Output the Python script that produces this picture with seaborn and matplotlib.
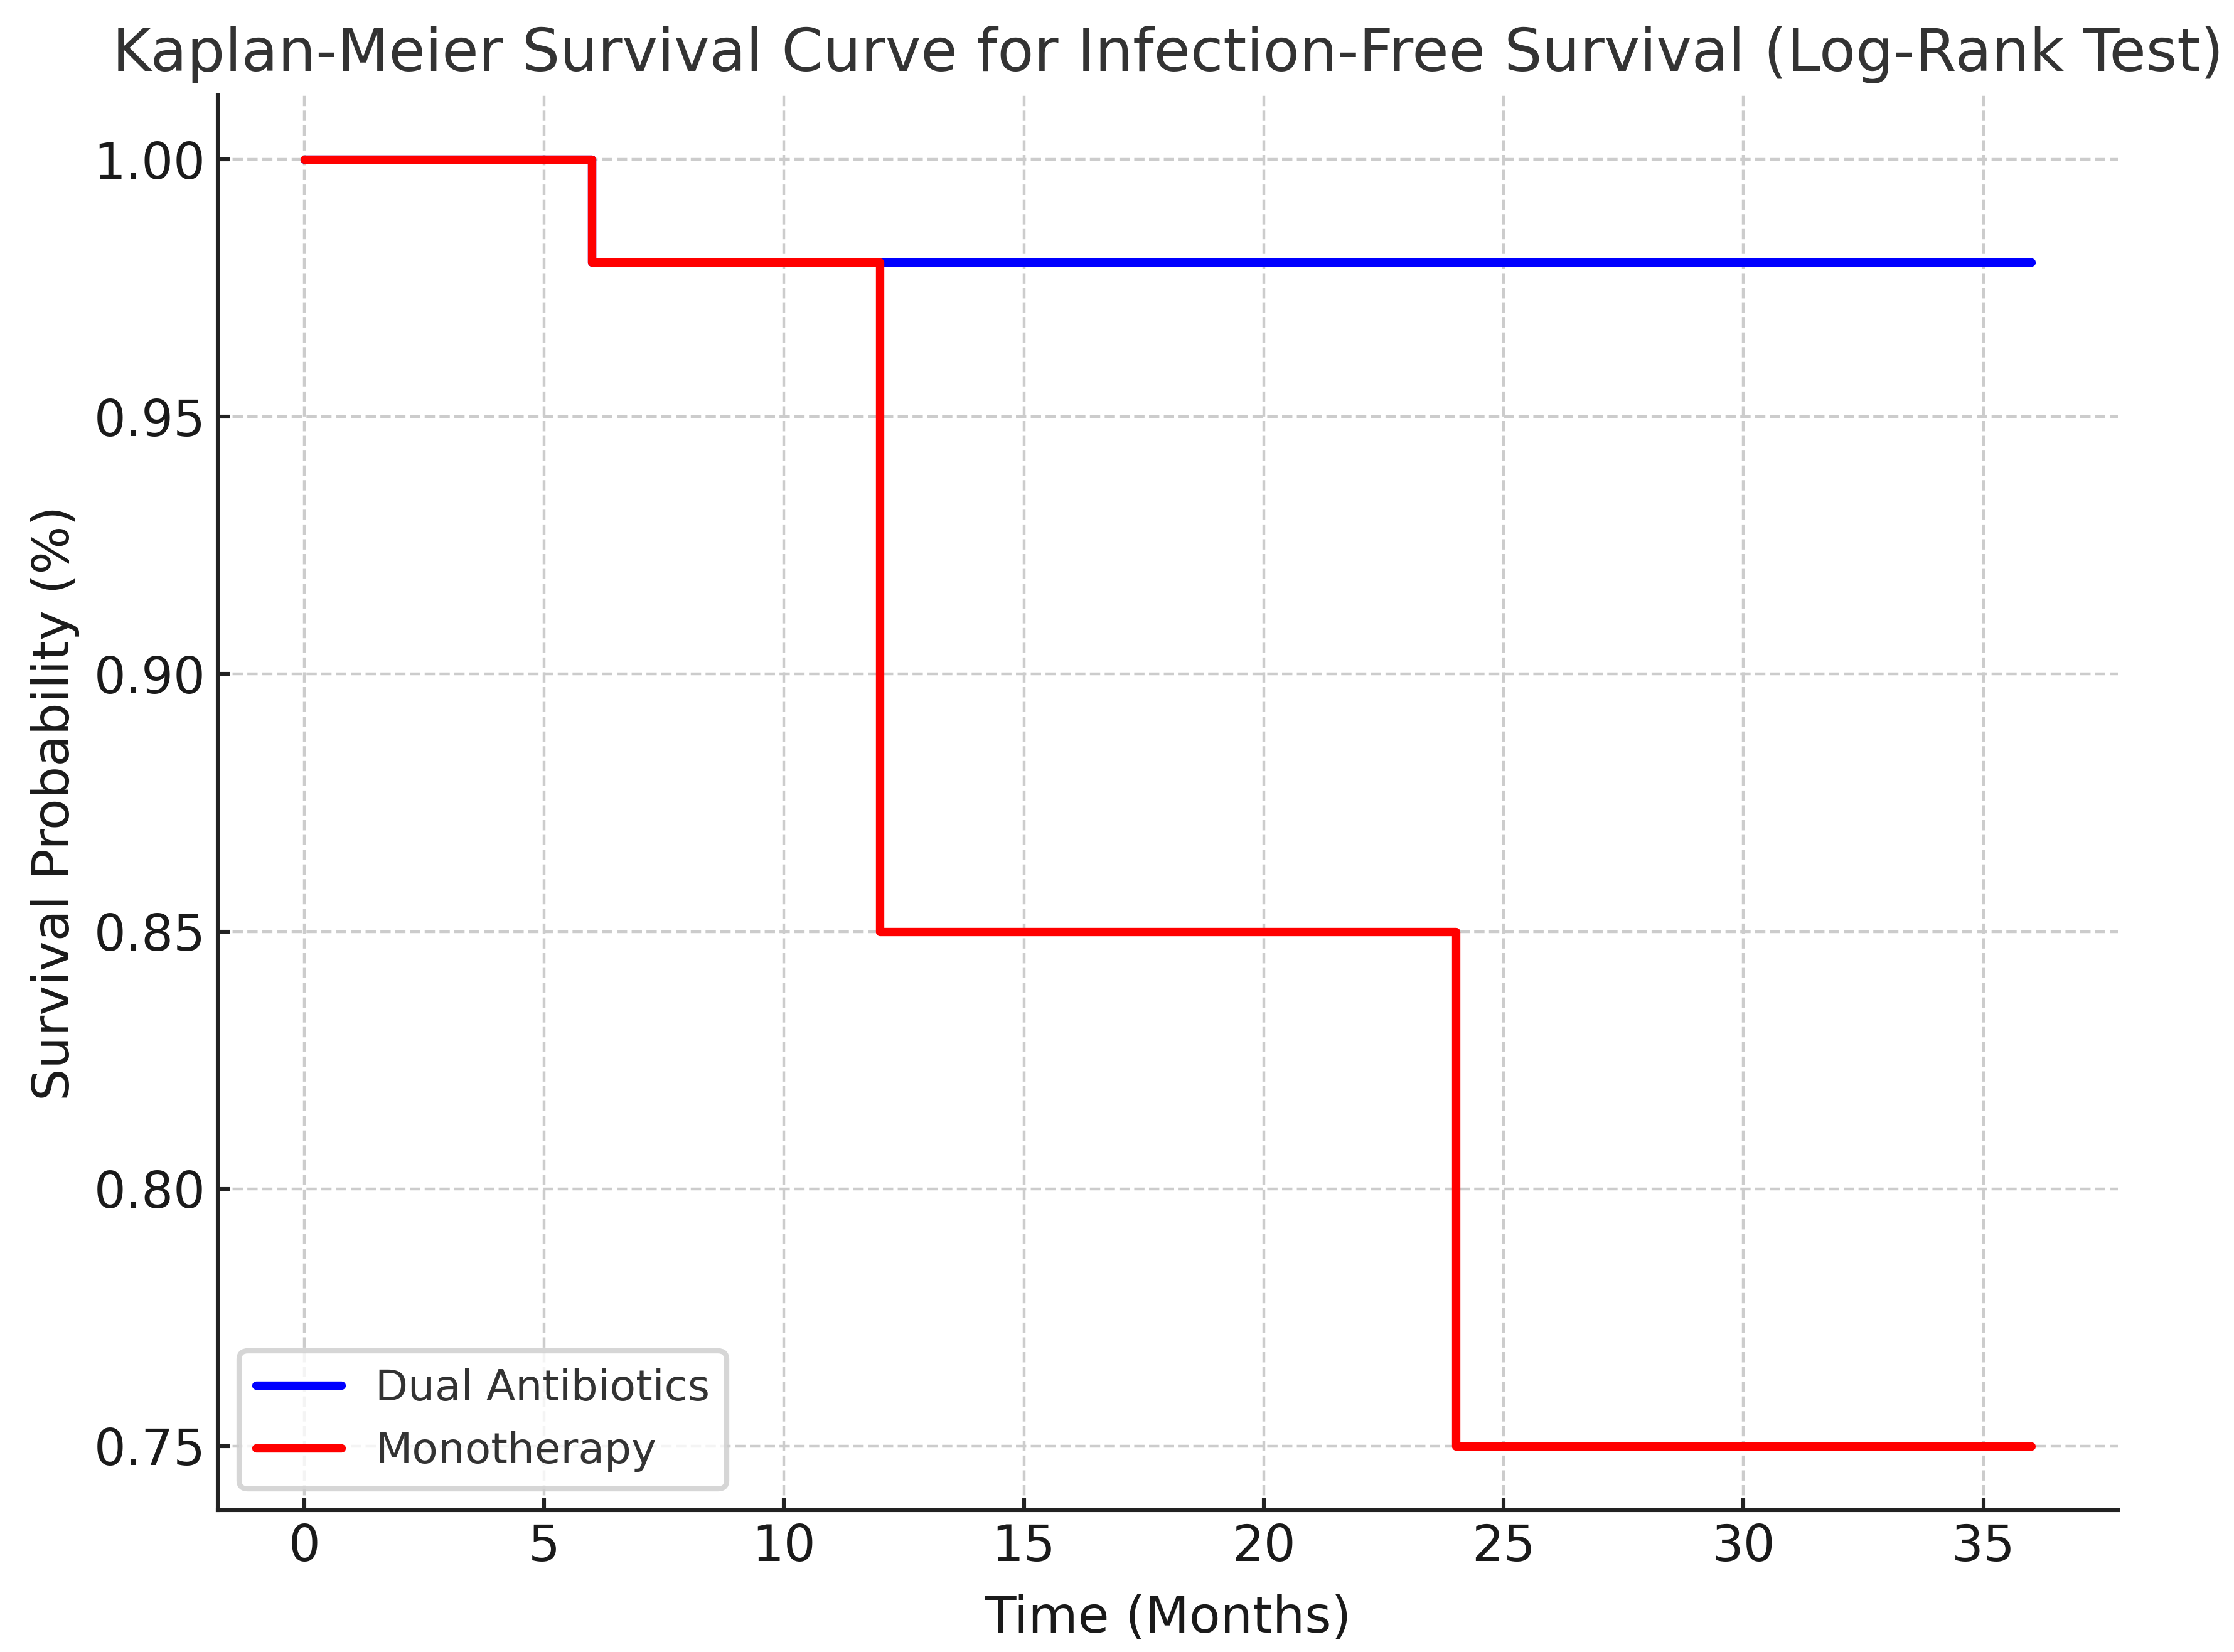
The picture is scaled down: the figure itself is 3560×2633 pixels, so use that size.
import numpy as np
import pandas as pd
import seaborn as sns
import matplotlib.pyplot as plt

# follow-up times (months) and survival probabilities per group
times = [0, 6, 12, 24, 36]
dual_surv = [1.00, 0.98, 0.98, 0.98, 0.98]
mono_surv = [1.00, 0.98, 0.85, 0.75, 0.75]
groups = ['Dual Antibiotics', 'Monotherapy']
colors = ['blue', 'red']

df = pd.DataFrame({
    'time': times + times,
    'surv': dual_surv + mono_surv,
    'group': [groups[0]] * len(times) + [groups[1]] * len(times),
})

sns.set_style('ticks')
plt.rcParams['font.family'] = ['DejaVu Sans']

fig = plt.figure(figsize=(8.9, 6.5825), dpi=400)
ax = fig.add_axes([0.0975, 0.0858, 0.8505, 0.8565])

sns.lineplot(data=df, x='time', y='surv', hue='group', palette=colors,
             drawstyle='steps-post', linewidth=2.4, estimator=None,
             ax=ax)

ax.grid(True, linestyle='--', linewidth=0.8, color='#cccccc')
ax.set_axisbelow(True)
sns.despine(ax=ax)
for s in ['left', 'bottom']:
    ax.spines[s].set_linewidth(1.1)
    ax.spines[s].set_color('#222222')
ax.tick_params(direction='in', length=3.5, width=1.1, colors='#222222',
               labelsize=14.4, labelcolor='#1a1a1a')
ax.set_yticks([0.75, 0.80, 0.85, 0.90, 0.95, 1.00])
ax.yaxis.set_major_formatter(plt.FormatStrFormatter('%.2f'))

ax.set_title('Kaplan-Meier Survival Curve for Infection-Free Survival (Log-Rank Test)',
             fontsize=17.1, color='#333333', pad=7)
ax.set_xlabel('Time (Months)', fontsize=14.6, color='#1a1a1a', labelpad=6.5)
ax.set_ylabel('Survival Probability (%)', fontsize=14.6, color='#1a1a1a')

leg = ax.legend(loc='lower left', fontsize=12.2, frameon=True, fancybox=True)
leg.get_frame().set_edgecolor('#cccccc')
leg.get_frame().set_linewidth(1.5)
for t in leg.get_texts():
    t.set_color('#333333')

fig.savefig('out.png', dpi=400)
